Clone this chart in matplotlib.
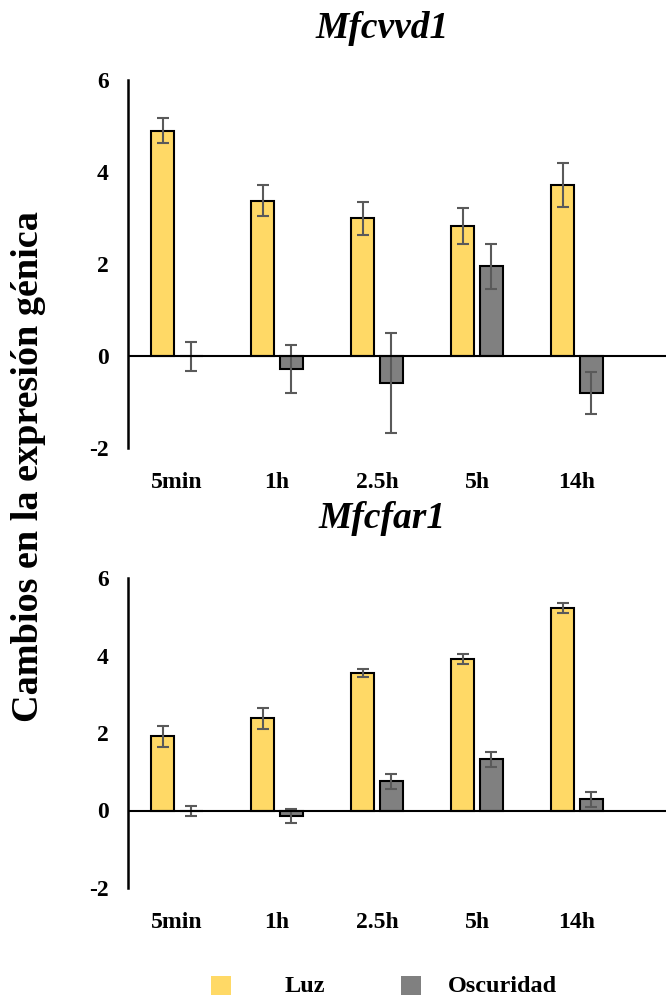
import matplotlib
matplotlib.use("Agg")
import matplotlib.pyplot as plt
from matplotlib.patches import Rectangle
import numpy as np

plt.rcParams['font.family'] = ['Liberation Serif', 'DejaVu Serif']
plt.rcParams['font.weight'] = 'bold'
plt.rcParams['axes.unicode_minus'] = False

tiempos = ['5min', '1h', '2.5h', '5h', '14h']

# Mfcvvd1
vvd_luz = [4.90, 3.38, 2.99, 2.83, 3.72]
vvd_luz_err = [0.27, 0.33, 0.36, 0.39, 0.48]
vvd_osc = [-0.01, -0.28, -0.58, 1.95, -0.80]
vvd_osc_err = [0.31, 0.52, 1.09, 0.49, 0.46]

# Mfcfar1
far_luz = [1.92, 2.38, 3.54, 3.91, 5.23]
far_luz_err = [0.27, 0.27, 0.10, 0.13, 0.13]
far_osc = [-0.01, -0.14, 0.75, 1.32, 0.29]
far_osc_err = [0.13, 0.17, 0.20, 0.20, 0.20]

col_luz = '#FFD966'
col_osc = '#808080'
col_err = '#5A5A5A'

W, H = 666, 999
fig = plt.figure(figsize=(W / 100, H / 100), dpi=100)


def panel(y_top, y_bot, luz, luz_err, osc, osc_err, titulo, y_titulo):
    ax = fig.add_axes([128 / W, 1 - y_bot / H, (W - 128) / W, (y_bot - y_top) / H])
    x = np.arange(len(tiempos))
    off, bw = 0.143, 0.23
    ax.bar(x - off, luz, bw, color=col_luz, edgecolor='black', linewidth=1.5, zorder=2)
    ax.bar(x + off, osc, bw, color=col_osc, edgecolor='black', linewidth=1.5, zorder=2)
    ax.errorbar(x - off, luz, yerr=luz_err, fmt='none', ecolor=col_err,
                elinewidth=1.5, capsize=4.5, capthick=1.5, zorder=3)
    ax.errorbar(x + off, osc, yerr=osc_err, fmt='none', ecolor=col_err,
                elinewidth=1.5, capsize=4.5, capthick=1.5, zorder=3)
    ax.axhline(0, color='black', linewidth=1.5, zorder=4)
    ax.set_xlim(-0.49, 4.89)
    ax.set_ylim(-2, 6)
    ax.set_yticks([-2, 0, 2, 4, 6])
    ax.set_xticks(x)
    ax.set_xticklabels(tiempos)
    ax.tick_params(axis='both', length=0, labelsize=17)
    ax.tick_params(axis='y', pad=14)
    ax.tick_params(axis='x', pad=17)
    for s in ['top', 'right', 'bottom']:
        ax.spines[s].set_visible(False)
    ax.spines['left'].set_linewidth(1.8)
    fig.text(382 / W, 1 - y_titulo / H, titulo, ha='center', va='center',
             fontsize=27, fontweight='bold', style='italic')
    return ax


panel(80, 448, vvd_luz, vvd_luz_err, vvd_osc, vvd_osc_err, 'Mfcvvd1', 28)
panel(578, 888, far_luz, far_luz_err, far_osc, far_osc_err, 'Mfcfar1', 518)

fig.text(29 / W, 1 - 467 / H, 'Cambios en la expresión génica', rotation=90,
         ha='center', va='center', fontsize=27.5, fontweight='bold')

# leyenda inferior: cuadro de color + etiqueta
leyenda = [('Luz', col_luz, 211, 285), ('Oscuridad', col_osc, 401, 448)]
for nombre, color, x_cuadro, x_texto in leyenda:
    fig.patches.append(Rectangle((x_cuadro / W, 1 - 995 / H), 20 / W, 19 / H,
                                 transform=fig.transFigure, facecolor=color,
                                 edgecolor='none'))
    fig.text(x_texto / W, 1 - 986 / H, nombre, ha='left', va='center', fontsize=17.5)

fig.savefig('out.png', dpi=100)
